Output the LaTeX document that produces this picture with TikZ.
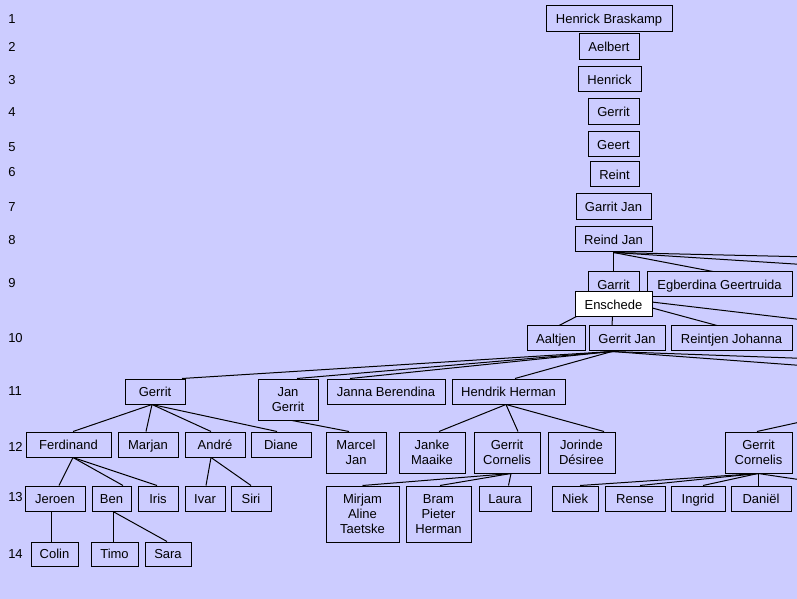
\documentclass[tikz,border=0pt]{standalone}
\usepackage{fontspec}
\setmainfont{Liberation Sans}
\usetikzlibrary{calc}
\definecolor{bgcol}{RGB}{204,204,255}
\tikzset{
  box/.style={draw=black, line width=0.75pt, align=center, inner sep=0pt,
    font=\fontsize{9.75}{11.25}\selectfont},
  sbox/.style={box, text height=0.716em, text depth=0pt},
  wh/.style 2 args={minimum width=#1*0.75pt, minimum height=#2*0.75pt},
  lvl/.style={anchor=west, inner sep=0pt, font=\fontsize{9.75}{11.25}\selectfont},
  link/.style={draw=black, line width=0.75pt}
}
\begin{document}
\begin{tikzpicture}[x=0.75pt,y=-0.75pt]
\useasboundingbox (0,0) rectangle (797,599);
\fill[bgcol] (0,0) rectangle (797,599);
\clip (0,0) rectangle (797,599);
% level numbers
\foreach \n/\y in {1/19,2/47,3/80,4/112,5/147,6/172,7/207,8/240,9/283,10/338,11/391,12/447,13/497,14/554}
  \node[lvl] (lv\n) at (8,\y) {\n};
% nodes
\node[sbox, wh={126}{26}] (hb) at (609,19) {Henrick Braskamp};
\node[sbox, wh={60}{26}] (ae) at (609,47) {Aelbert};
\node[sbox, wh={63}{25}] (he) at (609.5,79.5) {Henrick};
\node[sbox, wh={51}{26}] (g4) at (613.5,112) {Gerrit};
\node[sbox, wh={51}{25}] (ge) at (613.5,144.5) {Geert};
\node[sbox, wh={49}{25}] (re) at (614.5,174.5) {Reint};
\node[sbox, wh={75}{26}] (gj7) at (613.5,207) {Garrit Jan};
\node[sbox, wh={77}{25}] (rj) at (613.5,239.5) {Reind Jan};
\node[sbox, wh={51}{25}] (ga) at (613.5,284.5) {Garrit};
\node[sbox, wh={145}{25}] (eg) at (719.5,284.5) {Egberdina Geertruida};
\node[sbox, wh={58}{25}] (aa) at (556,338.5) {Aaltjen};
\node[sbox, wh={76}{25}] (gj) at (627,338.5) {Gerrit Jan};
\node[sbox, wh={121}{25}] (rjo) at (731.5,338.5) {Reintjen Johanna};
\node[sbox, wh={60}{25}] (g11) at (155,391.5) {Gerrit};
\node[box, wh={60}{41}] (jg) at (288,399.5) {Jan\\Gerrit};
\node[sbox, wh={118}{25}] (jb) at (386,391.5) {Janna Berendina};
\node[sbox, wh={113}{25}] (hh) at (508.5,391.5) {Hendrik Herman};
\node[sbox, wh={85}{25}] (fe) at (68.5,444.5) {Ferdinand};
\node[sbox, wh={60}{25}] (ma) at (148,444.5) {Marjan};
\node[sbox, wh={60}{25}] (an) at (215,444.5) {André};
\node[sbox, wh={60}{25}] (di) at (281,444.5) {Diane};
\node[box, wh={60}{41}] (mj) at (356,452.5) {Marcel\\Jan};
\node[box, wh={66}{41}] (jm) at (432,452.5) {Janke\\Maaike};
\node[box, wh={66}{41}] (gcl) at (507,452.5) {Gerrit\\Cornelis};
\node[box, wh={67}{41}] (jd) at (581.5,452.5) {Jorinde\\Désiree};
\node[box, wh={67}{41}] (gcr) at (758.5,452.5) {Gerrit\\Cornelis};
\node[sbox, wh={60}{25}] (je) at (55,498.5) {Jeroen};
\node[sbox, wh={39}{25}] (be) at (111.5,498.5) {Ben};
\node[sbox, wh={40}{25}] (ir) at (158,498.5) {Iris};
\node[sbox, wh={40}{25}] (iv) at (205,498.5) {Ivar};
\node[sbox, wh={40}{25}] (si) at (251,498.5) {Siri};
\node[box, wh={73}{56}] (mat) at (362.5,514) {Mirjam\\Aline\\Taetske};
\node[box, wh={65}{56}] (bph) at (438.5,514) {Bram\\Pieter\\Herman};
\node[sbox, wh={52}{25}] (la) at (505,498.5) {Laura};
\node[sbox, wh={46}{25}] (ni) at (575,498.5) {Niek};
\node[sbox, wh={60}{25}] (rn) at (635,498.5) {Rense};
\node[sbox, wh={54}{25}] (ig) at (698,498.5) {Ingrid};
\node[sbox, wh={60}{25}] (da) at (761,498.5) {Daniël};
\node[sbox, wh={47}{24}] (co) at (54.5,554) {Colin};
\node[sbox, wh={47}{24}] (ti) at (114.5,554) {Timo};
\node[sbox, wh={46}{24}] (sa) at (168,554) {Sara};
% off-picture ends
\coordinate (offA) at (900,259);
\coordinate (offB) at (900,270.7);
\coordinate (offC) at (900,331.3);
\coordinate (offD) at (900,361.9);
\coordinate (offE) at (900,372.8);
\coordinate (offF) at (900,400);
\coordinate (offG) at (900,494.5);
% connectors
\path[link] (rj.south) -- (ga.north);
\path[link] (rj.south) -- ($(eg.north)+(-6.5,0)$);
\path[link] (rj.south) -- (offA);
\path[link] (rj.south) -- (offB);
\path[link] (ga.south) -- ($(aa.north)+(3,0)$);
\path[link] (ga.south) -- ($(gj.north)+(-15,0)$);
\path[link] (ga.south) -- ($(rjo.north)+(-14.5,0)$);
\path[link] (ga.south) -- (offC);
\path[link] ($(gj.south)+(-15,0)$) -- ($(g11.north)+(27,0)$);
\path[link] ($(gj.south)+(-15,0)$) -- ($(jg.north)+(9,0)$);
\path[link] ($(gj.south)+(-15,0)$) -- ($(jb.north)+(-36,0)$);
\path[link] ($(gj.south)+(-15,0)$) -- ($(hh.north)+(6.5,0)$);
\path[link] ($(gj.south)+(-15,0)$) -- (offD);
\path[link] ($(gj.south)+(-15,0)$) -- (offE);
\path[link] (offF) -- ($(gcr.north)+(-1.5,0)$);
\path[link] ($(g11.south)+(-3,0)$) -- ($(fe.north)+(4.5,0)$);
\path[link] ($(g11.south)+(-3,0)$) -- ($(ma.north)+(-2,0)$);
\path[link] ($(g11.south)+(-3,0)$) -- ($(an.north)+(-4,0)$);
\path[link] ($(g11.south)+(-3,0)$) -- ($(di.north)+(-4,0)$);
\path[link] ($(jg.south)+(4,0)$) -- ($(mj.north)+(-7,0)$);
\path[link] ($(hh.south)+(-2.5,0)$) -- ($(jm.north)+(7,0)$);
\path[link] ($(hh.south)+(-2.5,0)$) -- ($(gcl.north)+(11,0)$);
\path[link] ($(hh.south)+(-2.5,0)$) -- ($(jd.north)+(22.5,0)$);
\path[link] ($(fe.south)+(4.5,0)$) -- ($(je.north)+(4,0)$);
\path[link] ($(fe.south)+(4.5,0)$) -- ($(be.north)+(11.5,0)$);
\path[link] ($(fe.south)+(4.5,0)$) -- ($(ir.north)+(-1,0)$);
\path[link] ($(an.south)+(-4,0)$) -- ($(iv.north)+(1,0)$);
\path[link] ($(an.south)+(-4,0)$) -- (si.north);
\path[link] ($(gcl.south)+(4,0)$) -- (mat.north);
\path[link] ($(gcl.south)+(4,0)$) -- ($(bph.north)+(1.5,0)$);
\path[link] ($(gcl.south)+(4,0)$) -- ($(la.north)+(3.5,0)$);
\path[link] ($(gcr.south)+(-0.5,0)$) -- ($(ni.north)+(5,0)$);
\path[link] ($(gcr.south)+(-0.5,0)$) -- ($(rn.north)+(5,0)$);
\path[link] ($(gcr.south)+(-0.5,0)$) -- ($(ig.north)+(5,0)$);
\path[link] ($(gcr.south)+(-0.5,0)$) -- ($(da.north)+(-3,0)$);
\path[link] ($(gcr.south)+(-0.5,0)$) -- (offG);
\path[link] ($(je.south)+(-4,0)$) -- ($(co.north)+(-3.5,0)$);
\path[link] ($(be.south)+(1.5,0)$) -- ($(ti.north)+(-1.5,0)$);
\path[link] ($(be.south)+(1.5,0)$) -- ($(sa.north)+(-1,0)$);
% Enschede on top
\node[sbox, fill=white, wh={77}{25}] (en) at (613.5,304.5) {Enschede};
\end{tikzpicture}
\end{document}
